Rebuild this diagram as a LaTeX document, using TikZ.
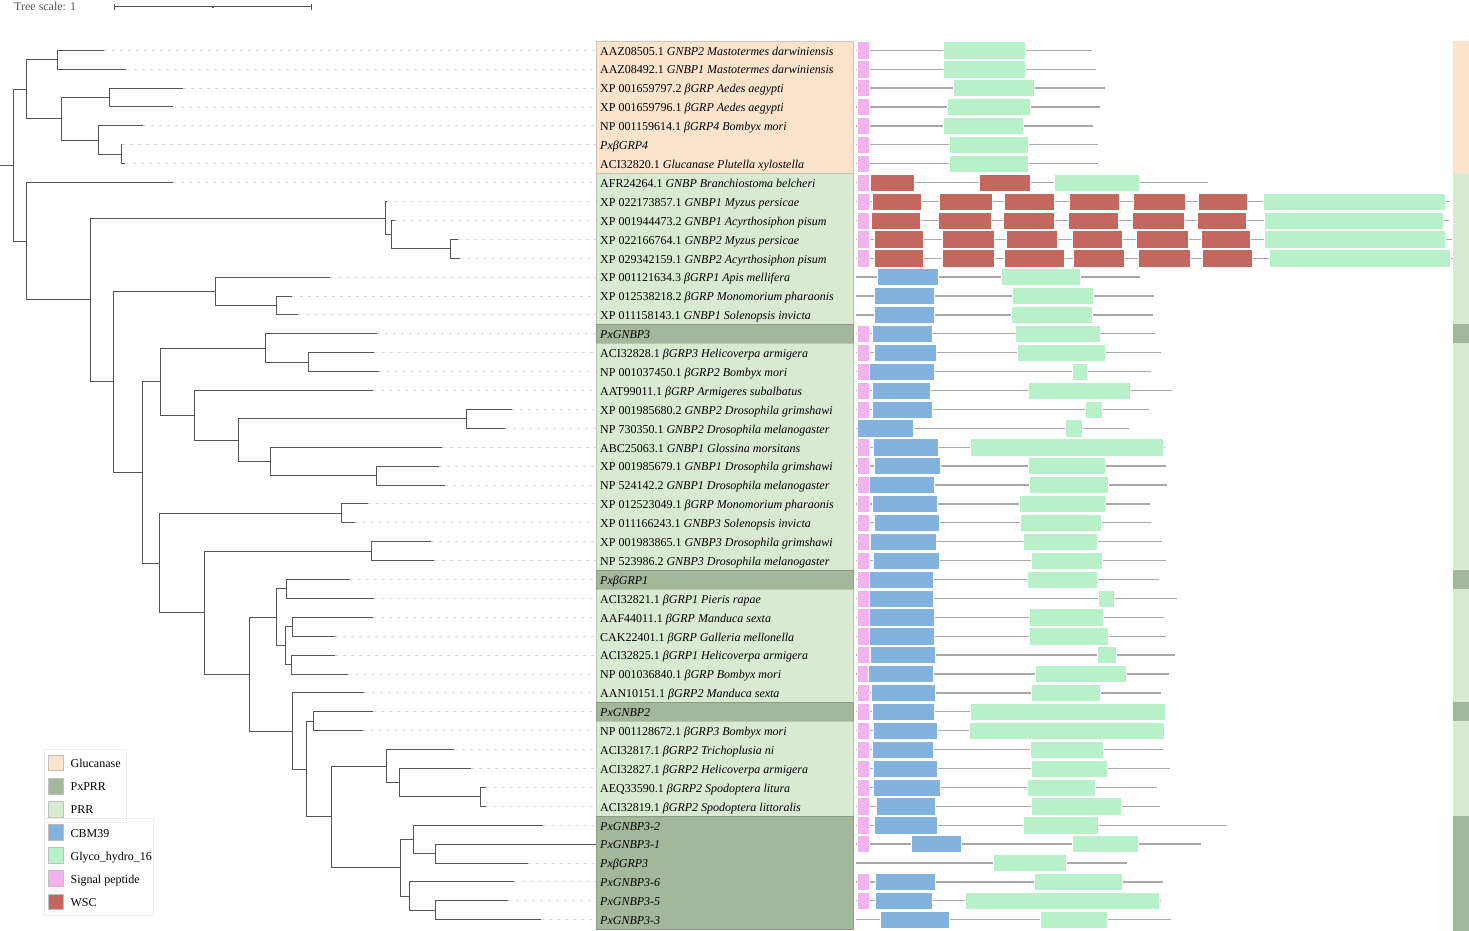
\documentclass[tikz,border=0pt]{standalone}
\usepackage{fontspec}
\setmainfont{Liberation Serif}
\definecolor{peach}{HTML}{FCE4CC}
\definecolor{prr}{HTML}{D8EAD2}
\definecolor{pxprr}{HTML}{A3B79B}
\definecolor{cbm}{HTML}{84B2DF}
\definecolor{ghc}{HTML}{B8F0C9}
\definecolor{spc}{HTML}{F0B3EE}
\definecolor{wscc}{HTML}{C4675E}
\definecolor{treec}{HTML}{555555}
\definecolor{leadc}{HTML}{D9D9D9}
\definecolor{bbc}{HTML}{A8A8A8}
\tikzset{
  br/.style={draw=treec, line width=1pt},
  lead/.style={draw=leadc, line width=0.9pt, dash pattern=on 3pt off 5pt},
  lbl/.style={anchor=base west, inner xsep=4pt, inner ysep=0pt, font=\fontsize{12}{14}\selectfont},
  bbone/.style={draw=bbc, line width=1.3pt},
  dsp/.style={fill=spc, draw=white, line width=0.5pt},
  dgh/.style={fill=ghc, draw=white, line width=0.5pt},
  dcb/.style={fill=cbm, draw=white, line width=0.5pt},
  dws/.style={fill=wscc, draw=white, line width=0.5pt},
  swatch/.style={minimum width=15pt, minimum height=15.5pt, inner sep=0pt, draw=black!25, line width=0.6pt},
  lgt/.style={anchor=base west, inner sep=0pt, font=\fontsize{12}{14}\selectfont},
  scl/.style={draw=treec, line width=1.1pt},
}
\newcommand\DBack[2]{\draw[bbone] (856,#1) -- (#2,#1);}
\newcommand\DSig[1]{\filldraw[dsp] (857,#1-8.6) rectangle (869,#1+8.6);}
\newcommand\DGly[3]{\filldraw[dgh] (#2,#1-8.6) rectangle (#3,#1+8.6);}
\newcommand\DCbm[3]{\filldraw[dcb] (#2,#1-8.6) rectangle (#3,#1+8.6);}
\newcommand\DWsc[3]{\filldraw[dws] (#2,#1-8.6) rectangle (#3,#1+8.6);}
\newcommand\DLab[3]{\node[lbl] (l#1) at (596,#2+4.8) {#3};}
\begin{document}
\begin{tikzpicture}[x=1pt,y=-1pt]
\useasboundingbox (0,0) rectangle (1469,931);
% ---- label backgrounds and right strip
\foreach \a/\b/\c in {40.85/173.15/peach, 173.15/324.35/prr, 324.35/343.25/pxprr, 343.25/570.05/prr, 570.05/588.95/pxprr, 588.95/702.35/prr, 702.35/721.25/pxprr, 721.25/815.75/prr, 815.75/929.15/pxprr}{
  \filldraw[fill=\c, draw=\c!85!black, line width=0.5pt] (596,\a) rectangle (853,\b);
  \fill[\c] (1453,\a) rectangle (1469,\b);
}
\fill[pxprr] (1453,929) rectangle (1469,931);
% ---- labels
\DLab{1}{50.3}{AAZ08505.1 \textit{GNBP2 Mastotermes darwiniensis}}
\DLab{2}{69.2}{AAZ08492.1 \textit{GNBP1 Mastotermes darwiniensis}}
\DLab{3}{88.1}{XP 001659797.2 \textit{βGRP Aedes aegypti}}
\DLab{4}{107.0}{XP 001659796.1 \textit{βGRP Aedes aegypti}}
\DLab{5}{125.9}{NP 001159614.1 \textit{βGRP4 Bombyx mori}}
\DLab{6}{144.8}{\textit{PxβGRP4}}
\DLab{7}{163.7}{ACI32820.1 \textit{Glucanase Plutella xylostella}}
\DLab{8}{182.6}{AFR24264.1 \textit{GNBP Branchiostoma belcheri}}
\DLab{9}{201.5}{XP 022173857.1 \textit{GNBP1 Myzus persicae}}
\DLab{10}{220.4}{XP 001944473.2 \textit{GNBP1 Acyrthosiphon pisum}}
\DLab{11}{239.3}{XP 022166764.1 \textit{GNBP2 Myzus persicae}}
\DLab{12}{258.2}{XP 029342159.1 \textit{GNBP2 Acyrthosiphon pisum}}
\DLab{13}{277.1}{XP 001121634.3 \textit{βGRP1 Apis mellifera}}
\DLab{14}{296.0}{XP 012538218.2 \textit{βGRP Monomorium pharaonis}}
\DLab{15}{314.9}{XP 011158143.1 \textit{GNBP1 Solenopsis invicta}}
\DLab{16}{333.8}{\textit{PxGNBP3}}
\DLab{17}{352.7}{ACI32828.1 \textit{βGRP3 Helicoverpa armigera}}
\DLab{18}{371.6}{NP 001037450.1 \textit{βGRP2 Bombyx mori}}
\DLab{19}{390.5}{AAT99011.1 \textit{βGRP Armigeres subalbatus}}
\DLab{20}{409.4}{XP 001985680.2 \textit{GNBP2 Drosophila grimshawi}}
\DLab{21}{428.3}{NP 730350.1 \textit{GNBP2 Drosophila melanogaster}}
\DLab{22}{447.2}{ABC25063.1 \textit{GNBP1 Glossina morsitans}}
\DLab{23}{466.1}{XP 001985679.1 \textit{GNBP1 Drosophila grimshawi}}
\DLab{24}{485.0}{NP 524142.2 \textit{GNBP1 Drosophila melanogaster}}
\DLab{25}{503.9}{XP 012523049.1 \textit{βGRP Monomorium pharaonis}}
\DLab{26}{522.8}{XP 011166243.1 \textit{GNBP3 Solenopsis invicta}}
\DLab{27}{541.7}{XP 001983865.1 \textit{GNBP3 Drosophila grimshawi}}
\DLab{28}{560.6}{NP 523986.2 \textit{GNBP3 Drosophila melanogaster}}
\DLab{29}{579.5}{\textit{PxβGRP1}}
\DLab{30}{598.4}{ACI32821.1 \textit{βGRP1 Pieris rapae}}
\DLab{31}{617.3}{AAF44011.1 \textit{βGRP Manduca sexta}}
\DLab{32}{636.2}{CAK22401.1 \textit{βGRP Galleria mellonella}}
\DLab{33}{655.1}{ACI32825.1 \textit{βGRP1 Helicoverpa armigera}}
\DLab{34}{674.0}{NP 001036840.1 \textit{βGRP Bombyx mori}}
\DLab{35}{692.9}{AAN10151.1 \textit{βGRP2 Manduca sexta}}
\DLab{36}{711.8}{\textit{PxGNBP2}}
\DLab{37}{730.7}{NP 001128672.1 \textit{βGRP3 Bombyx mori}}
\DLab{38}{749.6}{ACI32817.1 \textit{βGRP2 Trichoplusia ni}}
\DLab{39}{768.5}{ACI32827.1 \textit{βGRP2 Helicoverpa armigera}}
\DLab{40}{787.4}{AEQ33590.1 \textit{βGRP2 Spodoptera litura}}
\DLab{41}{806.3}{ACI32819.1 \textit{βGRP2 Spodoptera littoralis}}
\DLab{42}{825.2}{\textit{PxGNBP3-2}}
\DLab{43}{844.1}{\textit{PxGNBP3-1}}
\DLab{44}{863.0}{\textit{PxβGRP3}}
\DLab{45}{881.9}{\textit{PxGNBP3-6}}
\DLab{46}{900.8}{\textit{PxGNBP3-5}}
\DLab{47}{919.7}{\textit{PxGNBP3-3}}
% ---- tree: leaves
\foreach \n/\x/\y in {1/103.6/50.3, 2/126/69.2, 3/182.5/88.1, 4/172.5/107.0, 5/143.2/125.9, 6/122/144.8, 7/125.4/163.7,
  8/172.9/182.6, 9/386.5/201.5, 10/394.6/220.4, 11/457.9/239.3, 12/459.6/258.2, 13/329.6/277.1, 14/292/296.0,
  15/297.9/314.9, 16/377/333.8, 17/373.6/352.7, 18/378.6/371.6, 19/372.5/390.5, 20/511.8/409.4, 21/505.4/428.3,
  22/442/447.2, 23/438.6/466.1, 24/444.6/485.0, 25/367.5/503.9, 26/354.6/522.8, 27/430.7/541.7, 28/434/560.6,
  29/349.6/579.5, 30/374/598.4, 31/372.5/617.3, 32/335/636.2, 33/335/655.1, 34/347.5/674.0, 35/364.3/692.9,
  36/372.9/711.8, 37/362.5/730.7, 38/454.3/749.6, 39/471.4/768.5, 40/485.7/787.4, 41/486.4/806.3, 42/543.2/825.2,
  43/596/844.1, 44/527.5/863.0, 45/513.6/881.9, 46/507.5/900.8, 47/540.7/919.7}
  {\coordinate (t\n) at (\x,\y);}
% ---- tree: internal nodes
\foreach \n/\x/\y in {R0/0/165.3, R/13.2/165.3, A/26.4/89.3, A1/57.9/59.75, A2/61.8/118.8, A21/109/97.55,
  A22/98.2/140.08, A221/121.4/154.25, B/26.4/241.25, B2/90.7/299.9, B21/385/218.05, B211/391/234.6,
  B211n/450/248.75, B22/113.2/381.8, C1/215.7/291.3, C1n/276.4/305.45, C2/142.1/472.3, D1/160.7/381.65,
  D11/265.4/348, D11n/308.2/362.15, D12/194.6/415.3, D121/238.9/440.1, D121a/466/418.85, D1212/270.4/461.4,
  D1212n/376.4/475.55, D2/159.3/563, D2a/341.4/513.35, D22/204.3/612.65, D22a/371/551.15, D222/249.3/674.15,
  E1/276.4/617.3, E1a/286.4/588.95, E12/285/645.65, E12a/292.5/626.75, E12b/291.8/664.55, E2/292.1/731,
  E22/306.4/769.1, E22a/313.6/721.25, E222/331.8/816.95, E2221/386/766.15, F2/399.3/782.7, F1/480.7/796.85,
  E2222/400.4/867.75, G2/413.2/839.4, G1/435.4/853.55, H2/409.6/896.1, H1/435.4/910.25}
  {\coordinate (\n) at (\x,\y);}
% ---- leaders
\foreach \n in {1,...,42,44,45,46,47}{\draw[lead] (t\n) -- (t\n -| l\n.west);}
% ---- tree branches
\draw[br] (R0) -- (R);
\foreach \p/\c in {R/A, R/B, A/A1, A/A2, A1/t1, A1/t2, A2/A21, A2/A22, A21/t3, A21/t4, A22/t5, A22/A221,
  A221/t6, A221/t7, B/t8, B/B2, B2/B21, B2/B22, B21/t9, B21/B211, B211/t10, B211/B211n, B211n/t11, B211n/t12,
  B22/C1, B22/C2, C1/t13, C1/C1n, C1n/t14, C1n/t15, C2/D1, C2/D2, D1/D11, D1/D12, D11/t16, D11/D11n,
  D11n/t17, D11n/t18, D12/t19, D12/D121, D121/D121a, D121/D1212, D121a/t20, D121a/t21, D1212/t22,
  D1212/D1212n, D1212n/t23, D1212n/t24, D2/D2a, D2/D22, D2a/t25, D2a/t26, D22/D22a, D22/D222, D22a/t27,
  D22a/t28, D222/E1, D222/E2, E1/E1a, E1/E12, E1a/t29, E1a/t30, E12/E12a, E12/E12b, E12a/t31, E12a/t32,
  E12b/t33, E12b/t34, E2/t35, E2/E22, E22/E22a, E22/E222, E22a/t36, E22a/t37, E222/E2221, E222/E2222,
  E2221/t38, E2221/F2, F2/t39, F2/F1, F1/t40, F1/t41, E2222/G2, E2222/H2, G2/t42, G2/G1, G1/t43, G1/t44,
  H2/t45, H2/H1, H1/t46, H1/t47}
  {\draw[br] (\p) |- (\c);}
% ---- domain architectures
\DBack{50.3}{1091.7}\DSig{50.3}\DGly{50.3}{943.7}{1024.8}
\DBack{69.2}{1095.6}\DSig{69.2}\DGly{69.2}{943.7}{1025.2}
\DBack{88.1}{1105}\DSig{88.1}\DGly{88.1}{953.6}{1034}
\DBack{107.0}{1100}\DSig{107.0}\DGly{107.0}{947.7}{1030}
\DBack{125.9}{1093.3}\DSig{125.9}\DGly{125.9}{943.7}{1023.3}
\DBack{144.8}{1098}\DSig{144.8}\DGly{144.8}{949.3}{1028.4}
\DBack{163.7}{1098}\DSig{163.7}\DGly{163.7}{949.3}{1028.4}
\DBack{182.6}{1208.4}\DSig{182.6}\DWsc{182.6}{870.6}{914}\DWsc{182.6}{979.7}{1030.4}\DGly{182.6}{1054.5}{1138.8}
\DBack{201.5}{1450}\DSig{201.5}\DWsc{201.5}{872.2}{921.2}\DWsc{201.5}{939.4}{992}\DWsc{201.5}{1003.9}{1054.5}\DWsc{201.5}{1069.1}{1119}\DWsc{201.5}{1133.2}{1185}\DWsc{201.5}{1198.5}{1246.8}\DGly{201.5}{1263.4}{1444.9}
\DBack{220.4}{1449.3}\DSig{220.4}\DWsc{220.4}{871.4}{920.4}\DWsc{220.4}{938.6}{991.2}\DWsc{220.4}{1003.5}{1054.1}\DWsc{220.4}{1068.4}{1118.6}\DWsc{220.4}{1132.4}{1184.7}\DWsc{220.4}{1197.7}{1246.4}\DGly{220.4}{1263.8}{1443.7}
\DBack{239.3}{1451.7}\DSig{239.3}\DWsc{239.3}{874.1}{923.2}\DWsc{239.3}{941.8}{994}\DWsc{239.3}{1005.9}{1057.7}\DWsc{239.3}{1071.9}{1122.2}\DWsc{239.3}{1136}{1188.2}\DWsc{239.3}{1200.9}{1249.9}\DGly{239.3}{1263.8}{1444.9}
\DBack{258.2}{1453}\DSig{258.2}\DWsc{258.2}{874.1}{923.2}\DWsc{258.2}{941.8}{994}\DWsc{258.2}{1004.7}{1064}\DWsc{258.2}{1073.5}{1124.1}\DWsc{258.2}{1138}{1189.8}\DWsc{258.2}{1202.5}{1251.9}\DGly{258.2}{1269.7}{1450}
\DBack{277.1}{1140.3}\DCbm{277.1}{877.3}{937.8}\DGly{277.1}{1001.5}{1079.8}
\DBack{296.0}{1154.2}\DCbm{296.0}{874.5}{933.9}\DGly{296.0}{1011.8}{1093.3}
\DBack{314.9}{1153.4}\DCbm{314.9}{874.5}{933.9}\DGly{314.9}{1011}{1092.1}
\DBack{333.8}{1155.4}\DSig{333.8}\DCbm{333.8}{872.5}{931.9}\DGly{333.8}{1015.3}{1100}
\DBack{352.7}{1160.9}\DSig{352.7}\DCbm{352.7}{874.1}{935.8}\DGly{352.7}{1017.3}{1105.5}
\DBack{371.6}{1151}\DSig{371.6}\DCbm{371.6}{869}{933.9}\DGly{371.6}{1072.3}{1087}
\DBack{390.5}{1172.4}\DSig{390.5}\DCbm{390.5}{872.5}{930.7}\DGly{390.5}{1028.4}{1130}
\DBack{409.4}{1149.1}\DSig{409.4}\DCbm{409.4}{871.8}{932.3}\DGly{409.4}{1085.4}{1102.4}
\DBack{428.3}{1129.3}\DCbm{428.3}{857.5}{913.3}\DGly{428.3}{1065.2}{1082.6}
\DBack{447.2}{1164.5}\DSig{447.2}\DCbm{447.2}{873}{937.8}\DGly{447.2}{969.9}{1163.3}
\DBack{466.1}{1165.7}\DSig{466.1}\DCbm{466.1}{874.5}{940.2}\DGly{466.1}{1028}{1105.5}
\DBack{485.0}{1166.9}\DSig{485.0}\DCbm{485.0}{869}{934.3}\DGly{485.0}{1029.2}{1108.3}
\DBack{503.9}{1149.8}\DSig{503.9}\DCbm{503.9}{872.5}{937.4}\DGly{503.9}{1019.3}{1105.5}
\DBack{522.8}{1151}\DSig{522.8}\DCbm{522.8}{874.1}{939.4}\DGly{522.8}{1020.5}{1101.6}
\DBack{541.7}{1162.1}\DSig{541.7}\DCbm{541.7}{870.2}{935.8}\DGly{541.7}{1023.7}{1097.6}
\DBack{560.6}{1165.7}\DSig{560.6}\DCbm{560.6}{873.3}{939}\DGly{560.6}{1030.8}{1102.4}
\DBack{579.5}{1158.5}\DSig{579.5}\DCbm{579.5}{869}{933.5}\DGly{579.5}{1026.8}{1096.8}
\DBack{598.4}{1176.7}\DSig{598.4}\DCbm{598.4}{869}{933.1}\DGly{598.4}{1098.4}{1114.2}
\DBack{617.3}{1163.7}\DSig{617.3}\DCbm{617.3}{869.4}{934.3}\DGly{617.3}{1028.8}{1102.8}
\DBack{636.2}{1165.7}\DSig{636.2}\DCbm{636.2}{869}{934.3}\DGly{636.2}{1029.6}{1108.7}
\DBack{655.1}{1175.2}\DSig{655.1}\DCbm{655.1}{869.8}{935}\DGly{655.1}{1096.8}{1116.2}
\DBack{674.0}{1169.2}\DSig{674.0}\DCbm{674.0}{868.6}{933.1}\DGly{674.0}{1035.1}{1126.5}
\DBack{692.9}{1160.9}\DSig{692.9}\DCbm{692.9}{871}{935}\DGly{692.9}{1031.2}{1100}
\DBack{711.8}{1165.7}\DSig{711.8}\DCbm{711.8}{872.5}{934.3}\DGly{711.8}{969.9}{1164.9}
\DBack{730.7}{1165.3}\DSig{730.7}\DCbm{730.7}{873}{937.4}\DGly{730.7}{969.1}{1164.5}
\DBack{749.6}{1163.3}\DSig{749.6}\DCbm{749.6}{872.2}{933.5}\DGly{749.6}{1030.4}{1103.6}
\DBack{768.5}{1170.4}\DSig{768.5}\DCbm{768.5}{873}{937.4}\DGly{768.5}{1031.6}{1107.5}
\DBack{787.4}{1157}\DSig{787.4}\DCbm{787.4}{873}{939.8}\DGly{787.4}{1027.2}{1095.6}
\DBack{806.3}{1160.1}\DSig{806.3}\DCbm{806.3}{876.1}{935.4}\DGly{806.3}{1030.8}{1121.4}
\DBack{825.2}{1227.4}\DSig{825.2}\DCbm{825.2}{874.1}{937.4}\DGly{825.2}{1022.9}{1098.4}
\DBack{844.1}{1200.5}\DSig{844.1}\DCbm{844.1}{911.3}{961.2}\DGly{844.1}{1071.9}{1138}
\DBack{863.0}{1126.9}\DGly{863.0}{993.2}{1066.4}
\DBack{881.9}{1163.3}\DSig{881.9}\DCbm{881.9}{874.9}{935}\DGly{881.9}{1034.3}{1122.2}
\DBack{900.8}{1160.5}\DSig{900.8}\DCbm{900.8}{874.9}{932.3}\DGly{900.8}{965.1}{1159.7}
\DBack{919.7}{1170.8}\DCbm{919.7}{880}{948.9}\DGly{919.7}{1039.9}{1107.5}
% ---- legend
\draw[draw=black!7, line width=0.6pt] (44.6,749.3) rectangle (126.4,822.7);
\draw[draw=black!7, line width=0.6pt] (44.6,818.7) rectangle (153.6,915.3);
\foreach \i/\c/\t in {1/peach/Glucanase, 2/pxprr/PxPRR, 3/prr/PRR, 4/cbm/CBM39, 5/ghc/Glyco\_hydro\_16, 6/spc/Signal peptide, 7/wscc/WSC}{
  \pgfmathsetmacro\yy{763+23.1*(\i-1)}
  \node[swatch, fill=\c] (sw\i) at (55.7,\yy) {};
  \node[lgt] (lt\i) at (70.4,\yy+4.7) {\t};
}
% ---- tree scale
\node[lgt, text=treec] (tscale) at (14,11) {Tree scale: 1};
\coordinate (sbL) at (114.5,6.7);
\coordinate (sbR) at (311.5,6.7);
\coordinate (sbM) at (213,6.7);
\draw[scl] (sbL) -- (sbR);
\draw[scl] ([yshift=3pt]sbL) -- ([yshift=-3pt]sbL);
\draw[scl] ([yshift=3pt]sbR) -- ([yshift=-3pt]sbR);
\draw[scl] (sbM) -- ([yshift=-1.8pt]sbM);
\end{tikzpicture}
\end{document}
